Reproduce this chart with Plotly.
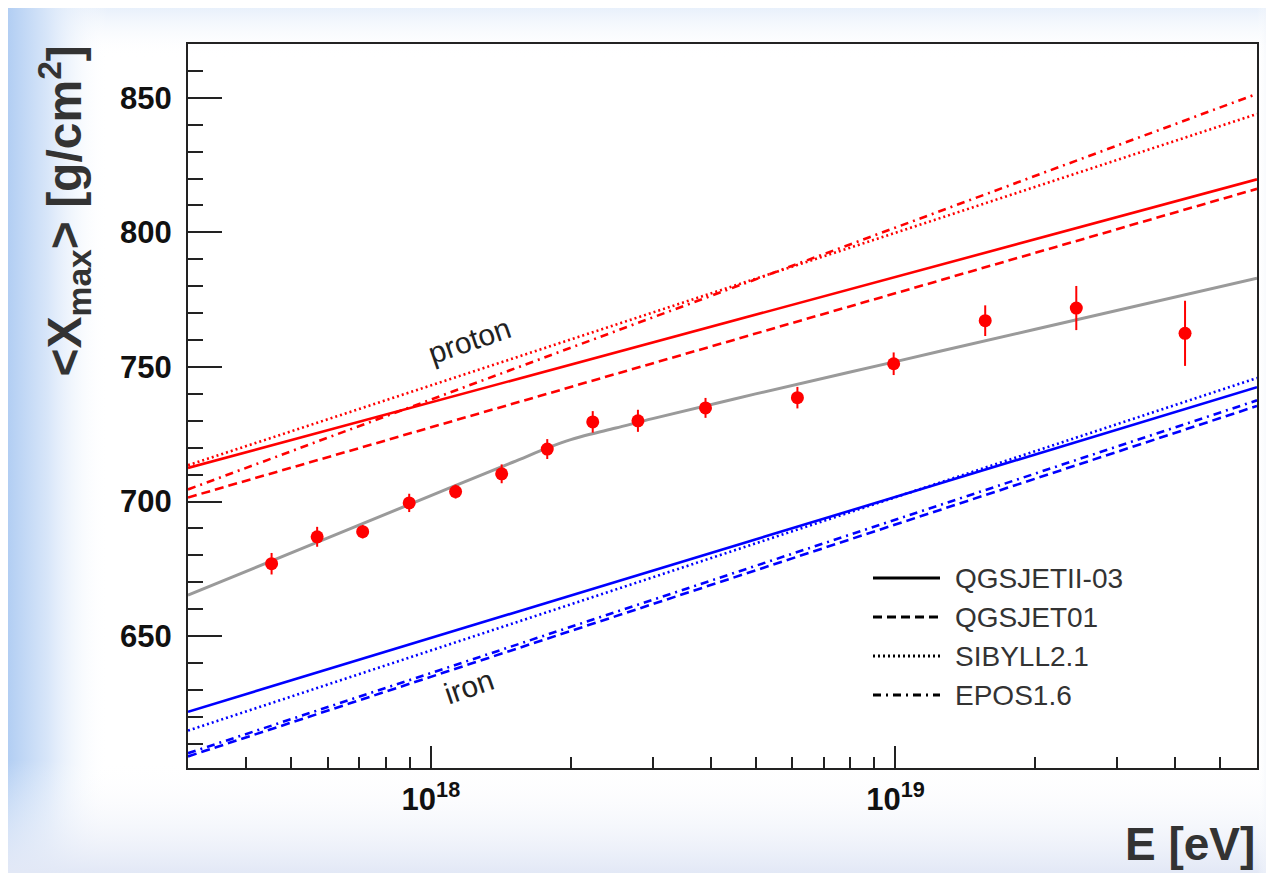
import base64
import math
import plotly.graph_objects as go

# ---------------- data ----------------
E_range = [3e17, 6e19]
model_names = ["QGSJETII-03", "QGSJET01", "SIBYLL2.1", "EPOS1.6"]
model_dashes = ["solid", "9px,5px", "2px,3px", "8px,5px,2px,5px"]
proton_lo = [712.5, 701.5, 713.5, 704.5]
proton_hi = [819.7, 816.2, 844.0, 851.5]
iron_lo = [621.9, 605.3, 614.9, 606.5]
iron_hi = [742.5, 735.5, 745.9, 737.6]

data_E = [4.54e17, 5.69e17, 7.13e17, 8.98e17, 1.13e18, 1.42e18, 1.78e18,
          2.23e18, 2.79e18, 3.90e18, 6.15e18, 9.91e18, 1.56e19, 2.45e19, 4.2e19]
data_X = [676.9, 686.9, 688.8, 699.5, 703.7, 710.3, 719.5,
          729.6, 730.0, 734.8, 738.6, 751.2, 767.2, 771.9, 762.5]
data_err = [4.0, 3.7, 2.5, 3.4, 2.6, 3.5, 3.7,
            4.0, 4.1, 3.7, 4.0, 4.2, 5.7, 8.2, 12.1]

fit_E = [3e17, 6e17, 1e18, 1.5e18, 1.8e18, 2.0e18, 2.2e18, 2.5e18, 3e18,
         5e18, 1e19, 2e19, 6e19]
fit_X = [665.2, 686.5, 702.2, 714.6, 720.2, 723.0, 725.0, 727.3, 730.8,
         740.0, 752.0, 764.0, 783.0]

x_tickvals = [1e18, 1e19]
x_ticktext = ["10<sup>18</sup>", "10<sup>19</sup>"]
x_minor = [4e17, 5e17, 6e17, 7e17, 8e17, 9e17,
           2e18, 3e18, 4e18, 5e18, 6e18, 7e18, 8e18, 9e18,
           2e19, 3e19, 4e19, 5e19]
y_range = [601, 870]

# ---------------- layout geometry ----------------
OFF = 8                      # page body margin
W, H = 1274 - OFF, 873 - OFF
ML, MR, MT, MB = 188 - OFF, 17, 44 - OFF, 105
PW, PH = W - ML - MR, H - MT - MB


def px_x(p):                 # page pixel -> paper coordinate
    return (p - OFF - ML) / PW


def px_y(p):
    return (H - MB - (p - OFF)) / PH


RED = "#ff0000"
BLUE = "#0000ff"
FONT = "Liberation Sans, Arial, sans-serif"

fig = go.Figure()

for i, name in enumerate(model_names):
    fig.add_trace(go.Scatter(x=E_range, y=[proton_lo[i], proton_hi[i]], mode="lines",
                             line=dict(color=RED, width=2.6, dash=model_dashes[i]),
                             showlegend=False, hoverinfo="skip"))
for i, name in enumerate(model_names):
    fig.add_trace(go.Scatter(x=E_range, y=[iron_lo[i], iron_hi[i]], mode="lines",
                             line=dict(color=BLUE, width=2.6, dash=model_dashes[i]),
                             showlegend=False, hoverinfo="skip"))

fig.add_trace(go.Scatter(x=fit_E, y=fit_X, mode="lines", line_shape="spline",
                         line=dict(color="#9a9a9a", width=3), showlegend=False))

fig.add_trace(go.Scatter(x=data_E, y=data_X, mode="markers",
                         marker=dict(color=RED, size=13, symbol="circle"),
                         error_y=dict(type="data", array=data_err, color=RED,
                                      thickness=2, width=0),
                         showlegend=False))

# ---------------- background (slide gradient) ----------------
svg = f'''<svg xmlns="http://www.w3.org/2000/svg" width="{W}" height="{H}" viewBox="0 0 {W} {H}" preserveAspectRatio="none">
<defs>
<linearGradient id="gl" x1="0" y1="0" x2="1" y2="0">
<stop offset="0" stop-color="#b2cef3"/><stop offset="0.4" stop-color="#d8e6f9"/>
<stop offset="1" stop-color="#ffffff" stop-opacity="0"/></linearGradient>
<linearGradient id="gb" x1="0" y1="0" x2="0" y2="1">
<stop offset="0" stop-color="#ffffff" stop-opacity="0"/><stop offset="1" stop-color="#e2e8f6"/></linearGradient>
<linearGradient id="gt" x1="0" y1="0" x2="0" y2="1">
<stop offset="0" stop-color="#e8f0fb"/><stop offset="1" stop-color="#ffffff" stop-opacity="0"/></linearGradient>
<linearGradient id="gr" x1="0" y1="0" x2="1" y2="0">
<stop offset="0" stop-color="#ffffff" stop-opacity="0"/><stop offset="1" stop-color="#e6ecf6"/></linearGradient>
</defs>
<rect width="{W}" height="{H}" fill="#ffffff"/>
<rect x="0" y="0" width="{W}" height="50" fill="url(#gt)"/>
<rect x="0" y="0" width="100" height="{H}" fill="url(#gl)"/>
<rect x="0" y="752" width="{W}" height="{H - 752}" fill="url(#gb)"/>
<rect x="{W - MR}" y="0" width="{MR}" height="{H}" fill="url(#gr)"/>
</svg>'''
uri = "data:image/svg+xml;base64," + base64.b64encode(svg.encode()).decode()

annotations = [
    dict(text="<b>E [eV]</b>", xref="paper", yref="paper", x=1.0, y=px_y(844),
         xanchor="right", yanchor="middle", showarrow=False,
         font=dict(family=FONT, size=46, color="#333333")),
    dict(text="<b>&lt;X<sub>max</sub>&gt; [g/cm<sup>2</sup>]</b>", xref="paper", yref="paper",
         x=px_x(64), y=1.0, xanchor="center", yanchor="top", textangle=-90,
         showarrow=False, font=dict(family=FONT, size=48, color="#333333")),
    dict(text="proton", x=math.log10(1.21e18), y=759.8, xref="x", yref="y",
         showarrow=False, textangle=-19, font=dict(family=FONT, size=30, color="#222222")),
    dict(text="iron", x=math.log10(1.21e18), y=631.1, xref="x", yref="y",
         showarrow=False, textangle=-19, font=dict(family=FONT, size=30, color="#222222")),
]

# manual legend (long key lines as in the original)
legend_rows = [578, 617, 656, 695]
shapes = []
for i, name in enumerate(model_names):
    shapes.append(dict(type="line", xref="paper", yref="paper",
                       x0=px_x(873), x1=px_x(940), y0=px_y(legend_rows[i]), y1=px_y(legend_rows[i]),
                       line=dict(color="black", width=3, dash=model_dashes[i])))
    annotations.append(dict(text=name, xref="paper", yref="paper", x=px_x(953),
                            y=px_y(legend_rows[i]), xanchor="left", yanchor="middle",
                            showarrow=False, font=dict(family=FONT, size=28, color="#333333")))

fig.update_layout(
    width=W, height=H,
    margin=dict(l=ML, r=MR, t=MT, b=MB, autoexpand=False),
    paper_bgcolor="white", plot_bgcolor="white",
    showlegend=False,
    images=[dict(source=uri, xref="paper", yref="paper", x=-ML / PW, y=1 + MT / PH,
                 sizex=W / PW, sizey=H / PH, sizing="stretch", xanchor="left",
                 yanchor="top", layer="below")],
    annotations=annotations,
    shapes=shapes,
)

fig.update_xaxes(type="log", range=[math.log10(E_range[0]), math.log10(E_range[1])],
                 tickmode="array", tickvals=x_tickvals, ticktext=x_ticktext,
                 ticks="inside", ticklen=22, tickwidth=1.5, tickcolor="#222222",
                 minor=dict(tickmode="array", tickvals=x_minor, ticks="inside",
                            ticklen=11, tickwidth=1.5, tickcolor="#222222", showgrid=False),
                 showgrid=False, zeroline=False, showline=True, linecolor="#222222",
                 linewidth=2, mirror=True,
                 tickfont=dict(family=FONT, size=31, color="#111111", weight="bold"),
                 ticklabelstandoff=3)
fig.update_yaxes(range=y_range, tickmode="linear", tick0=650, dtick=50,
                 ticks="inside", ticklen=34, tickwidth=1.5, tickcolor="#222222",
                 minor=dict(dtick=10, ticks="inside", ticklen=15, tickwidth=1.5,
                            tickcolor="#222222", showgrid=False),
                 showgrid=False, zeroline=False, showline=True, linecolor="#222222",
                 linewidth=2, mirror=True,
                 tickfont=dict(family=FONT, size=31, color="#111111", weight="bold"),
                 ticklabelstandoff=8)

fig.write_html("out.html")
